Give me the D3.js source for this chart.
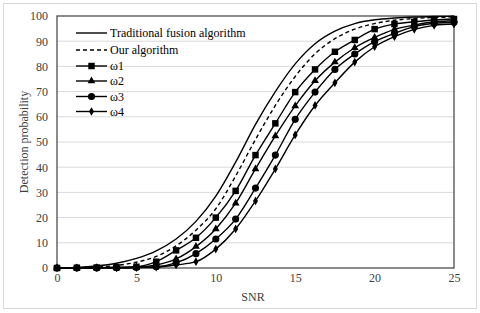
<!DOCTYPE html>
<html><head><meta charset="utf-8">
<script src="https://cdn.jsdelivr.net/npm/d3@7"></script>
<style>body{margin:0;background:#fff;}svg{display:block;font-family:"Liberation Serif","Times New Roman",serif;}</style>
</head><body><svg id="c" width="480" height="313"></svg>
<script>
const snr = [0,1.25,2.5,3.75,5,6.25,7.5,8.75,10,11.25,12.5,13.75,15,16.25,17.5,18.75,20,21.25,22.5,23.75,25];
const traditional = [0,0.2,0.8,1.9,3.8,6.8,11.5,18.5,28.5,42,57,70,81,89,94,97,98.5,99.2,99.6,99.8,99.9];
const ours = [0,0.1,0.4,1.0,2.3,4.6,8.8,15,23.5,36.5,51,64.5,76,85,91,94.8,97,98.3,99,99.4,99.6];
const w1 = [0,0.1,0.2,0.3,0.5,2.5,7,12,20,30.6,44.8,57.4,69.8,78.8,85.8,90.5,94.8,96.8,97.7,98.4,98.8];
const w2 = [0,0,0.1,0.2,0.3,1.2,3.6,8.5,15.5,25.7,39.3,52.4,64.3,74.3,81.7,87.4,91.5,94.7,96.4,97.7,98.1];
const w3 = [0,0,0,0.1,0.2,0.5,2,5.7,11.5,19.4,31.7,44.8,59,69.8,78.8,84.9,89.8,93.1,95.8,97.1,97.5];
const w4 = [0,0,0,0,0.1,0.3,1.2,2.5,7.5,15.5,26.6,39.3,52.8,64.5,73.5,81.7,87.8,91.8,94.7,96.3,96.8];
const legendLabels = ["Traditional fusion algorithm","Our algorithm","ω1","ω2","ω3","ω4"];
const xTicks = [0,5,10,15,20,25];
const yTicks = [0,10,20,30,40,50,60,70,80,90,100];

const svg = d3.select("#c");
const W = 480, H = 313;
const m = {l:57, r:26, t:16, b:45};
const x = d3.scaleLinear().domain([0,25]).range([m.l, W-m.r]);
const y = d3.scaleLinear().domain([0,100]).range([H-m.b, m.t]);
const FS = 12;

// outer border
svg.append("rect").attr("x",3.5).attr("y",3.5).attr("width",473).attr("height",305)
  .attr("fill","#fff").attr("stroke","#d9d9d9");

// gridlines
svg.append("g").selectAll("line").data(yTicks.filter(d=>d>0 && d<100)).join("line")
  .attr("x1",x(0)).attr("x2",x(25)).attr("y1",d=>y(d)).attr("y2",d=>y(d))
  .attr("stroke","#d9d9d9").attr("stroke-width",1);

// axes labels
const yAxis = d3.axisLeft(y).tickValues(yTicks).tickSize(0).tickPadding(9);
const gy = svg.append("g").attr("transform",`translate(${m.l},0)`).call(yAxis);
gy.select(".domain").remove();
gy.selectAll("text").attr("font-size",FS).attr("fill","#404040").attr("font-family","Liberation Serif");
const xAxis = d3.axisBottom(x).tickValues(xTicks).tickSize(0).tickPadding(5);
const gx = svg.append("g").attr("transform",`translate(0,${H-m.b})`).call(xAxis);
gx.select(".domain").remove();
gx.selectAll("text").attr("font-size",FS).attr("fill","#404040").attr("font-family","Liberation Serif");

// frame
svg.append("rect").attr("x",x(0)).attr("y",y(100)).attr("width",x(25)-x(0)).attr("height",y(0)-y(100))
  .attr("fill","none").attr("stroke","#404040").attr("stroke-width",1.2);

svg.append("text").attr("x",253).attr("y",301).attr("text-anchor","middle")
  .attr("font-size",FS).attr("fill","#404040").text("SNR");
svg.append("text").attr("transform",`translate(28,${(y(0)+y(100))/2}) rotate(-90)`)
  .attr("text-anchor","middle").attr("font-size",FS).attr("fill","#404040").text("Detection probability");

const line = d3.line().x((d,i)=>x(snr[i])).y(d=>y(d)).curve(d3.curveMonotoneX);
const series = [
  {v:traditional, dash:null, sym:null},
  {v:ours, dash:"4,3", sym:null},
  {v:w1, dash:null, sym:d3.symbolSquare, size:42},
  {v:w2, dash:null, sym:d3.symbolTriangle, size:26},
  {v:w3, dash:null, sym:d3.symbolCircle, size:40},
  {v:w4, dash:null, sym:d3.symbolDiamond, size:22},
];
series.forEach(s=>{
  svg.append("path").attr("d",line(s.v)).attr("fill","none").attr("stroke","#000")
    .attr("stroke-width",1.4).attr("stroke-dasharray",s.dash);
  if (s.sym) {
    svg.append("g").selectAll("path").data(s.v).join("path")
      .attr("transform",(d,i)=>`translate(${x(snr[i])},${y(d)})`)
      .attr("d",d3.symbol(s.sym,s.size)).attr("fill","#000");
  }
});

// legend
const ly = [33,50,66,81,96.5,111.5];
const lg = svg.append("g");
series.forEach((s,i)=>{
  lg.append("line").attr("x1",76).attr("x2",107).attr("y1",ly[i]).attr("y2",ly[i])
    .attr("stroke","#000").attr("stroke-width",1.4).attr("stroke-dasharray",s.dash);
  if (s.sym) lg.append("path").attr("transform",`translate(91.5,${ly[i]})`)
    .attr("d",d3.symbol(s.sym,s.size)).attr("fill","#000");
  lg.append("text").attr("x",110).attr("y",ly[i]).attr("dy","0.35em")
    .attr("font-size",FS).attr("fill","#000").text(legendLabels[i]);
});
</script></body></html>
